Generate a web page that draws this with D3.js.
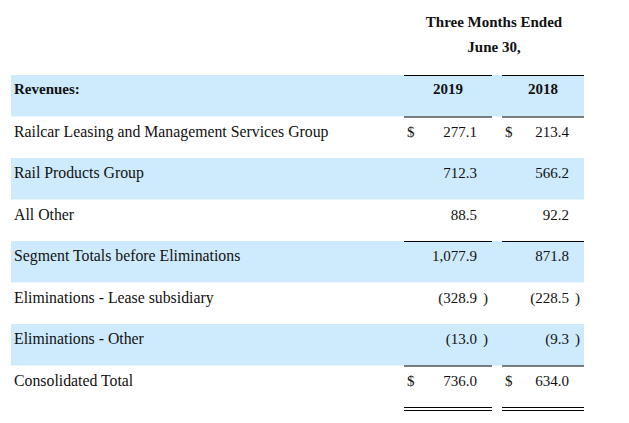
<!DOCTYPE html>
<html lang="en">
<head>
<meta charset="UTF-8">
<title>Revenues table</title>
<script src="https://cdn.jsdelivr.net/npm/d3@7"></script>
<style>
  html, body { margin: 0; padding: 0; background: #fff; }
  text { font-family: "Liberation Serif", "DejaVu Serif", serif; font-size: 15px; fill: #111; }
  .bold { font-weight: bold; }
  .label { font-size: 15.8px; }
</style>
</head>
<body>
<div id="container"></div>
<script>
// data
let titleLines = ["Three Months Ended", "June 30,"];
let headerLabel = "Revenues:";
let years = ["2019", "2018"];
let labels = [
    "Railcar Leasing and Management Services Group",
    "Rail Products Group",
    "All Other",
    "Segment Totals before Eliminations",
    "Eliminations - Lease subsidiary",
    "Eliminations - Other",
    "Consolidated Total"
];
let values2019 = [277.1, 712.3, 88.5, 1077.9, -328.9, -13.0, 736.0];
let values2018 = [213.4, 566.2, 92.2, 871.8, -228.5, -9.3, 634.0];
let dollarRows = ["Railcar Leasing and Management Services Group", "Consolidated Total"];
let shadedRows = ["Rail Products Group", "Segment Totals before Eliminations", "Eliminations - Other"];
let ruleAbove = ["Segment Totals before Eliminations", "Consolidated Total"];

let W = 629, H = 423;
let svg = d3.select('#container')
    .append('svg')
    .attr('width', W)
    .attr('height', H);

// rows: header + data rows
let rowKeys = ["__header"].concat(labels);
let y = d3.scaleBand()
    .domain(rowKeys)
    .range([75, 75 + 41.5 * rowKeys.length]);

let colLeft = d3.scaleOrdinal().domain(years).range([404, 502]);
let colRight = d3.scaleOrdinal().domain(years).range([492, 584]);
let bandLeft = 11, bandRight = 584;

let fmt = d3.format(",.1f");
let series = { "2019": values2019, "2018": values2018 };

// shaded bands
svg.selectAll("rect.band")
    .data(["__header"].concat(shadedRows))
    .enter().append("rect")
    .attr("class", "band")
    .attr("x", bandLeft)
    .attr("y", d => y(d))
    .attr("width", bandRight - bandLeft)
    .attr("height", y.bandwidth())
    .attr("fill", "#cdebfd");

// title
svg.selectAll("text.title")
    .data(titleLines)
    .enter().append("text")
    .attr("class", "title bold")
    .attr("x", (colLeft("2019") + colRight("2018")) / 2)
    .attr("y", (d, i) => 27 + i * 25)
    .attr("text-anchor", "middle")
    .text(d => d);

// header row
svg.append("text")
    .attr("class", "bold")
    .attr("x", 14)
    .attr("y", y("__header") + 19)
    .text(headerLabel);

years.forEach(yr => {
    svg.append("text")
        .attr("class", "bold")
        .attr("x", (colLeft(yr) + colRight(yr)) / 2)
        .attr("y", y("__header") + 19)
        .attr("text-anchor", "middle")
        .text(yr);
});

// rules
function rule(yy, yr) {
    svg.append("line")
        .attr("x1", colLeft(yr)).attr("x2", colRight(yr))
        .attr("y1", yy).attr("y2", yy)
        .attr("stroke", "#000").attr("stroke-width", 1.2);
}
years.forEach(yr => {
    rule(y("__header") + 0.5, yr);
    rule(y("__header") + y.bandwidth() + 0.5, yr);
    ruleAbove.forEach(r => rule(y(r) + 0.5, yr));
    let last = labels[labels.length - 1];
    rule(y(last) + y.bandwidth() + 0.5, yr);
    rule(y(last) + y.bandwidth() + 3.5, yr);
});

// row labels
svg.selectAll("text.label")
    .data(labels)
    .enter().append("text")
    .attr("class", "label")
    .attr("x", 14)
    .attr("y", d => y(d) + 20)
    .text(d => d);

// values
years.forEach(yr => {
    let vals = series[yr];
    labels.forEach((lab, i) => {
        let v = vals[i];
        let base = y(lab) + 20;
        let right = colRight(yr) - 15;
        if (dollarRows.indexOf(lab) >= 0) {
            svg.append("text")
                .attr("x", colLeft(yr) + 3)
                .attr("y", base)
                .text("$");
        }
        svg.append("text")
            .attr("x", right)
            .attr("y", base)
            .attr("text-anchor", "end")
            .text(v < 0 ? "(" + fmt(-v) : fmt(v));
        if (v < 0) {
            svg.append("text")
                .attr("x", right + 6)
                .attr("y", base)
                .text(")");
        }
    });
});
</script>
</body>
</html>
